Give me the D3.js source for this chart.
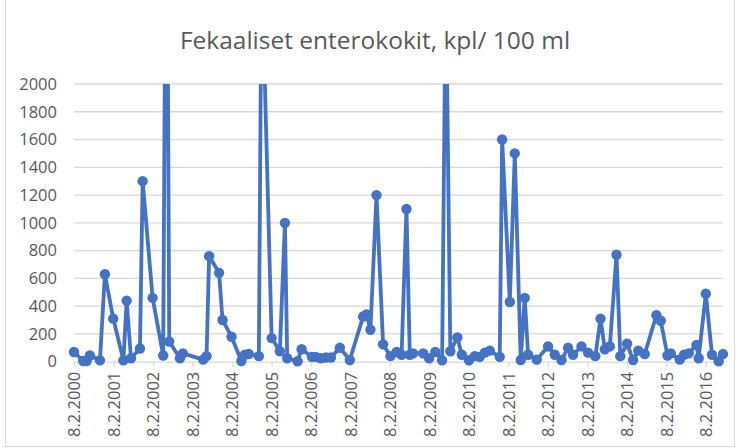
<!DOCTYPE html>
<html><head><meta charset="utf-8">
<script src="https://cdn.jsdelivr.net/npm/d3@7"></script>
<style>body{margin:0;background:#fff}svg{display:block}</style>
</head><body>
<svg id="c" width="738" height="448"></svg>
<script>
const title = "Fekaaliset enterokokit, kpl/ 100 ml";
const dates = ["2000-02-08","2000-05-03","2000-06-03","2000-07-04","2000-10-05","2000-11-20",
"2001-02-05","2001-05-10","2001-06-09","2001-07-19","2001-10-10","2001-11-04",
"2002-02-04","2002-05-13","2002-06-12","2002-07-08","2002-10-15","2002-11-11",
"2003-05-18","2003-06-18","2003-07-12","2003-10-12","2003-11-13",
"2004-02-04","2004-05-05","2004-06-06","2004-07-13","2004-10-14","2004-11-08",
"2005-02-09","2005-04-26","2005-06-12","2005-07-03","2005-10-07","2005-11-13",
"2006-02-16","2006-03-25","2006-05-10","2006-06-26","2006-08-11","2006-11-02",
"2007-02-02","2007-06-05","2007-07-07","2007-08-12","2007-10-07","2007-12-07",
"2008-02-13","2008-04-10","2008-05-26","2008-07-10","2008-08-10","2008-09-10","2008-12-12",
"2009-02-05","2009-04-03","2009-06-05","2009-07-09","2009-08-20","2009-10-24","2009-12-04",
"2010-02-08","2010-04-03","2010-05-19","2010-07-05","2010-08-20","2010-11-20","2010-12-12",
"2011-02-21","2011-04-08","2011-06-02","2011-07-09","2011-08-09","2011-10-28",
"2012-02-10","2012-04-12","2012-06-13","2012-08-13","2012-09-28","2012-12-15",
"2013-02-14","2013-04-22","2013-06-09","2013-07-19","2013-09-03","2013-11-04","2013-12-09",
"2014-02-10","2014-04-06","2014-05-24","2014-07-23","2014-11-08","2014-12-18",
"2015-02-18","2015-03-21","2015-06-12","2015-07-22","2015-09-03","2015-11-13","2015-12-04",
"2016-02-08","2016-04-05","2016-06-06","2016-07-16"];
const values = [70,5,5,45,10,630,
310,10,440,25,95,1300,
460,45,4200,145,25,60,
15,40,760,640,300,
180,5,50,55,40,2900,
170,75,1000,25,3,90,
35,35,25,30,30,100,
12,325,340,230,1200,125,
40,70,50,1100,50,60,60,
25,70,10,2800,75,175,50,
10,40,35,65,80,35,1600,
430,1500,12,460,50,15,
110,50,12,100,50,110,
65,40,310,90,110,770,40,
130,12,80,55,335,295,
45,60,15,50,60,120,25,
490,50,3,55];
const yTicks = [0,200,400,600,800,1000,1200,1400,1600,1800,2000];
const xTickLabels = ["8.2.2000","8.2.2001","8.2.2002","8.2.2003","8.2.2004","8.2.2005","8.2.2006","8.2.2007","8.2.2008","8.2.2009","8.2.2010","8.2.2011","8.2.2012","8.2.2013","8.2.2014","8.2.2015","8.2.2016"];

const parse = d3.timeParse("%Y-%m-%d");
const parseTick = d3.timeParse("%d.%m.%Y");
const data = dates.map((d,i)=>({date:parse(d), v:values[i]}));
const svg = d3.select("#c");
const font = "'Open Sans', sans-serif";
const L = 74, R = 723, T = 84, B = 361.7;

svg.append("rect").attr("x",5.5).attr("y",-1).attr("width",729).attr("height",447.5)
  .attr("fill","#fff").attr("stroke","#d9d9d9").attr("stroke-width",1);

const x = d3.scaleTime().domain([data[0].date, data[data.length-1].date]).range([L,R]);
const y = d3.scaleLinear().domain([0,2000]).range([B,T]);

svg.append("text").attr("x",375).attr("y",49).attr("text-anchor","middle")
  .attr("font-family",font).attr("font-size",24.5).attr("fill","#595959").text(title);

// gridlines
svg.append("g").selectAll("line").data(yTicks.filter(t=>t>0)).join("line")
  .attr("x1",L).attr("x2",R).attr("y1",d=>y(d)).attr("y2",d=>y(d))
  .attr("stroke","#d9d9d9").attr("stroke-width",1.3);

// y axis labels
const yAxis = d3.axisLeft(y).tickValues(yTicks).tickFormat(d3.format("d")).tickSize(0).tickPadding(0);
const gy = svg.append("g").attr("transform",`translate(57,0)`).call(yAxis);
gy.select(".domain").remove();
gy.selectAll("text").attr("font-family",font).attr("font-size",16.5).attr("fill","#595959");

// x axis
const xAxis = d3.axisBottom(x).tickValues(xTickLabels.map(s=>parseTick(s)))
  .tickFormat((d,i)=>xTickLabels[i]).tickSize(5).tickSizeOuter(0);
const gx = svg.append("g").attr("transform",`translate(0,${B})`).call(xAxis);
gx.select(".domain").attr("stroke","#d9d9d9").attr("stroke-width",1.3);
gx.selectAll(".tick line").attr("stroke","#d9d9d9").attr("stroke-width",1.3);
gx.selectAll("text").attr("font-family",font).attr("font-size",16.5).attr("fill","#595959")
  .attr("transform","rotate(-90)").attr("text-anchor","end").attr("x",-10).attr("y",0).attr("dy","0.35em");

// clip
svg.append("defs").append("clipPath").attr("id","clip").append("rect")
  .attr("x",0).attr("y",T).attr("width",738).attr("height",448-T);

const g = svg.append("g").attr("clip-path","url(#clip)");
const line = d3.line().x(d=>x(d.date)).y(d=>y(d.v));
g.append("path").datum(data).attr("d",line).attr("fill","none")
  .attr("stroke","#4472C4").attr("stroke-width",3.8).attr("stroke-linejoin","round").attr("stroke-linecap","round");
g.selectAll("circle").data(data).join("circle")
  .attr("cx",d=>x(d.date)).attr("cy",d=>y(d.v)).attr("r",5.2).attr("fill","#4472C4");
</script>
</body></html>
